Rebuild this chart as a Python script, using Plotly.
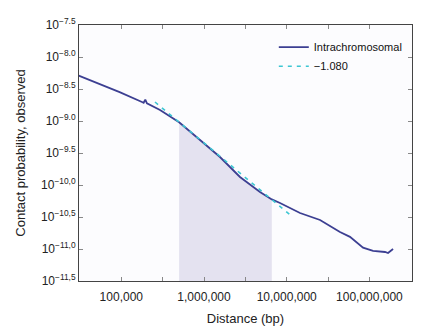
import numpy as np
import plotly.graph_objects as go

# Observed intrachromosomal contact probability (log10 values)
dist_log = [4.464, 4.74, 4.98, 5.25, 5.27, 5.29, 5.31, 5.468, 5.699, 5.952,
            6.193, 6.435, 6.677, 6.82, 6.919, 7.161, 7.403, 7.644, 7.765,
            7.923, 8.044, 8.189, 8.225, 8.286]
prob_log = [-8.281, -8.42, -8.55, -8.703, -8.715, -8.665, -8.725, -8.828, -9.02,
            -9.297, -9.5625, -9.875, -10.11, -10.225, -10.281, -10.4375, -10.547,
            -10.734, -10.81, -10.98, -11.03, -11.047, -11.0625, -11.0]

# Power-law fit (slope -1.080), endpoints
fit_x_log = [5.4075, 7.076]
fit_y_log = [-8.703, -10.505]

# Fit window (shaded), log10 distance
shade_start_log = 5.699
shade_end_log = 6.82

x_tick_logs = [5.0, 5.5, 6.0, 6.5, 7.0, 7.5, 8.0]
x_tick_labels = ["100,000", "", "1,000,000", "", "10,000,000", "", "100,000,000"]
y_tick_logs = [-11.5, -11.0, -10.5, -10.0, -9.5, -9.0, -8.5, -8.0, -7.5]
y_tick_labels = ["10<sup>−11,5</sup>", "10<sup>−11,0</sup>", "10<sup>−10,5</sup>",
                 "10<sup>−10,0</sup>", "10<sup>−9.5</sup>", "10<sup>−9.0</sup>",
                 "10<sup>−8.5</sup>", "10<sup>−8.0</sup>", "10<sup>−7.5</sup>"]

dl = np.array(dist_log)
x = 10 ** dl
y = 10 ** np.array(prob_log)

mask = (dl >= shade_start_log - 1e-6) & (dl <= shade_end_log + 1e-6)
sx = list(x[mask]) + [x[mask][-1], x[mask][0]]
sy = list(y[mask]) + [1e-12, 1e-12]

fig = go.Figure()
fig.add_trace(go.Scatter(x=sx, y=sy, fill="toself", fillcolor="#e4e2f0",
                         line=dict(width=0), mode="lines", showlegend=False,
                         hoverinfo="skip"))
fig.add_trace(go.Scatter(x=x, y=y, mode="lines", name="Intrachromosomal",
                         line=dict(color="#3c3f92", width=1.8)))
fig.add_trace(go.Scatter(x=10 ** np.array(fit_x_log), y=10 ** np.array(fit_y_log),
                         mode="lines", name="−1.080",
                         line=dict(color="#3cc6d2", width=1.6, dash="4px,5px")))

axis_common = dict(showline=True, linecolor="#444", linewidth=1, mirror="ticks",
                   ticks="inside", ticklen=4, tickcolor="#888", showgrid=False,
                   zeroline=False, automargin=False,
                   tickfont=dict(size=12, color="#222",
                                 family="Liberation Sans, Arial, sans-serif"))

fig.update_xaxes(type="log", range=[4.4885, 8.515],
                 tickvals=[10 ** v for v in x_tick_logs], ticktext=x_tick_labels,
                 ticklabelstandoff=5,
                 title=dict(text="Distance (bp)", font=dict(size=13, color="#222"),
                            standoff=10),
                 **axis_common)
fig.update_yaxes(type="log", range=[-11.5, -7.5],
                 tickvals=[10 ** v for v in y_tick_logs], ticktext=y_tick_labels,
                 title=dict(text="Contact probability, observed",
                            font=dict(size=13, color="#222"), standoff=12),
                 **axis_common)

fig.update_layout(
    width=424, height=330,
    margin=dict(l=79, r=12, t=25, b=49),
    paper_bgcolor="white", plot_bgcolor="#fcfcfe",
    font=dict(family="Liberation Sans, Arial, sans-serif", color="#222"),
    legend=dict(x=0.585, y=0.97, xanchor="left", yanchor="top",
                bgcolor="rgba(0,0,0,0)", tracegroupgap=0,
                font=dict(size=11, family="Liberation Sans, Arial, sans-serif",
                          color="#111")),
)

fig.write_html("out.html")
